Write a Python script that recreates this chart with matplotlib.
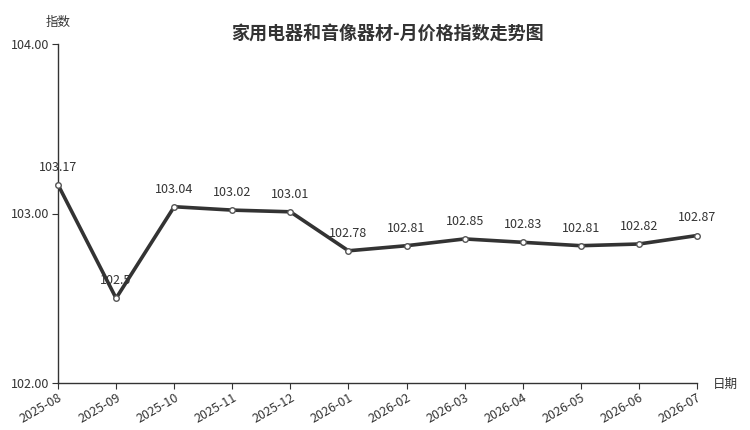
import matplotlib
matplotlib.use("Agg")
import matplotlib.pyplot as plt

plt.rcParams['font.family'] = ['Noto Sans CJK SC', 'DejaVu Sans']

months = ["2025-08", "2025-09", "2025-10", "2025-11", "2025-12", "2026-01",
          "2026-02", "2026-03", "2026-04", "2026-05", "2026-06", "2026-07"]
values = [103.17, 102.5, 103.04, 103.02, 103.01, 102.78,
          102.81, 102.85, 102.83, 102.81, 102.82, 102.87]
value_labels = ["103.17", "102.5", "103.04", "103.02", "103.01", "102.78",
                "102.81", "102.85", "102.83", "102.81", "102.82", "102.87"]

TEXT = "#333333"

fig = plt.figure(figsize=(7.5, 4.3), dpi=100)
ax = fig.add_axes([58/750, 47/430, (697-58)/750, (383-44)/430])

x = list(range(len(months)))
ax.plot(x, values, color="#333333", linewidth=2.6, marker="o", markersize=4,
        markerfacecolor="white", markeredgecolor="#555555", markeredgewidth=1,
        zorder=3, clip_on=False)

for xi, v, lab in zip(x, values, value_labels):
    ax.annotate(lab, (xi, v), xytext=(0, 8), textcoords="offset points",
                ha="center", va="bottom", fontsize=9, color=TEXT)

ax.set_xlim(0, len(months) - 1)
ax.set_ylim(102, 104)
ax.set_yticks([102, 103, 104])
ax.set_yticklabels(["102.00", "103.00", "104.00"])
ax.set_xticks(x)
ax.set_xticklabels(months, rotation=30, ha="right", rotation_mode="anchor")

for s in ["top", "right"]:
    ax.spines[s].set_visible(False)
for s in ["left", "bottom"]:
    ax.spines[s].set_color(TEXT)
    ax.spines[s].set_linewidth(1)
ax.tick_params(colors=TEXT, labelsize=9, length=4, pad=2)

fig.text(388/750, 1 - 33/430, "家用电器和音像器材-月价格指数走势图", ha="center", va="center",
         fontsize=13, fontweight="bold", color=TEXT)
fig.text(58/750, 1 - 22/430, "指数", ha="center", va="center", fontsize=9, color=TEXT)
fig.text(713/750, 1 - 384/430, "日期", ha="left", va="center", fontsize=9, color=TEXT)

fig.savefig("out.png", dpi=100)
